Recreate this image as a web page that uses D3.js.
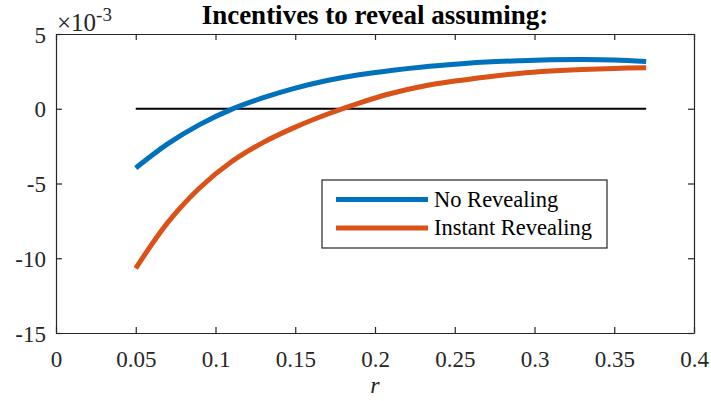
<!DOCTYPE html>
<html>
<head>
<meta charset="utf-8">
<script src="https://cdn.jsdelivr.net/npm/d3@7"></script>
<style>
  body { margin: 0; background: #fff; }
  svg { font-family: "Liberation Serif", "Times New Roman", serif; }
</style>
</head>
<body>
<svg id="chart"></svg>
<script>
const svgWidth = 711;
const svgHeight = 401;

// data (values in units of 1e-3)
const rValues = [0.05, 0.07, 0.09, 0.11, 0.13, 0.15, 0.17, 0.19, 0.21, 0.23, 0.25, 0.27, 0.29, 0.31, 0.33, 0.35, 0.37];
const noRevealing = [-3.96, -2.35, -1.06, -0.04, 0.74, 1.38, 1.89, 2.28, 2.56, 2.79, 2.97, 3.12, 3.21, 3.27, 3.29, 3.26, 3.16];
const instantRevealing = [-10.67, -7.62, -5.30, -3.55, -2.25, -1.23, -0.37, 0.38, 1.02, 1.50, 1.85, 2.13, 2.36, 2.52, 2.63, 2.70, 2.74];
const seriesNames = ["No Revealing", "Instant Revealing"];
const seriesColors = ["#0072BD", "#D95319"];
const xTicks = [0, 0.05, 0.1, 0.15, 0.2, 0.25, 0.3, 0.35, 0.4];
const yTicks = [5, 0, -5, -10, -15];

const margin = {left: 56, right: 17, top: 34, bottom: 68};
const plotW = svgWidth - margin.left - margin.right;
const plotH = svgHeight - margin.top - margin.bottom;

const svg = d3.select("#chart")
    .attr("width", svgWidth)
    .attr("height", svgHeight);

const x = d3.scaleLinear().domain([0, 0.4]).range([margin.left, margin.left + plotW]);
const y = d3.scaleLinear().domain([-15, 5]).range([margin.top + plotH, margin.top]);

const axisColor = "#262626";
const tickLen = 6;

// axes with inward ticks on all four sides
const gx = svg.append("g")
    .attr("transform", `translate(0,${margin.top + plotH})`)
    .call(d3.axisBottom(x).tickValues(xTicks).tickSizeInner(-tickLen).tickSizeOuter(0)
        .tickFormat(d => String(+d.toFixed(2))));
const gxTop = svg.append("g")
    .attr("transform", `translate(0,${margin.top})`)
    .call(d3.axisTop(x).tickValues(xTicks).tickSizeInner(-tickLen).tickSizeOuter(0).tickFormat(""));
const gy = svg.append("g")
    .attr("transform", `translate(${margin.left},0)`)
    .call(d3.axisLeft(y).tickValues(yTicks).tickSizeInner(-tickLen).tickSizeOuter(0)
        .tickFormat(d => String(d)));
const gyRight = svg.append("g")
    .attr("transform", `translate(${margin.left + plotW},0)`)
    .call(d3.axisRight(y).tickValues(yTicks).tickSizeInner(-tickLen).tickSizeOuter(0).tickFormat(""));

[gx, gxTop, gy, gyRight].forEach(g => {
    g.attr("font-family", null).attr("font-size", null);
    g.select(".domain").attr("stroke", axisColor).attr("stroke-width", 1.2);
    g.selectAll(".tick line").attr("stroke", axisColor).attr("stroke-width", 1.2);
    g.selectAll(".tick text")
        .attr("fill", "#262626")
        .style("font-size", "23px");
});
gx.selectAll(".tick text").attr("dy", null).attr("y", 34);
gy.selectAll(".tick text").attr("x", -10).attr("dy", "0.35em");

// exponent label
const expo = svg.append("text")
    .attr("x", margin.left + 1)
    .attr("y", 31)
    .attr("fill", "#262626")
    .style("font-size", "25px");
expo.append("tspan").text("\u00d710");
expo.append("tspan").attr("dy", -10).style("font-size", "19px").text("-3");

// zero line
svg.append("line")
    .attr("x1", x(rValues[0]))
    .attr("x2", x(rValues[rValues.length - 1]))
    .attr("y1", y(0))
    .attr("y2", y(0))
    .attr("stroke", "#000")
    .attr("stroke-width", 2);

// curves
const line = d3.line()
    .x((d, i) => x(rValues[i]))
    .y(d => y(d))
    .curve(d3.curveCatmullRom);

[noRevealing, instantRevealing].forEach((series, i) => {
    svg.append("path")
        .datum(series)
        .attr("fill", "none")
        .attr("stroke", seriesColors[i])
        .attr("stroke-width", 5)
        .attr("d", line);
});

// title
svg.append("text")
    .attr("x", margin.left + plotW / 2)
    .attr("y", 24)
    .attr("text-anchor", "middle")
    .attr("fill", "#000")
    .style("font-weight", "bold")
    .style("font-size", "27px")
    .text("Incentives to reveal assuming:");

// x label
svg.append("text")
    .attr("x", margin.left + plotW / 2)
    .attr("y", 393)
    .attr("text-anchor", "middle")
    .attr("fill", "#262626")
    .style("font-style", "italic")
    .style("font-size", "24px")
    .text("r");

// legend
const legend = svg.append("g").attr("transform", "translate(322,180)");
legend.append("rect")
    .attr("width", 285)
    .attr("height", 68)
    .attr("fill", "#fff")
    .attr("stroke", "#262626")
    .attr("stroke-width", 1.2);

seriesNames.forEach((name, i) => {
    const ly = 19.5 + i * 28.5;
    legend.append("line")
        .attr("x1", 14).attr("x2", 106)
        .attr("y1", ly).attr("y2", ly)
        .attr("stroke", seriesColors[i])
        .attr("stroke-width", 5);
    legend.append("text")
        .attr("x", 112)
        .attr("y", ly)
        .attr("dy", "0.33em")
        .attr("fill", "#000")
        .style("font-size", "22.5px")
        .text(name);
});
</script>
</body>
</html>
